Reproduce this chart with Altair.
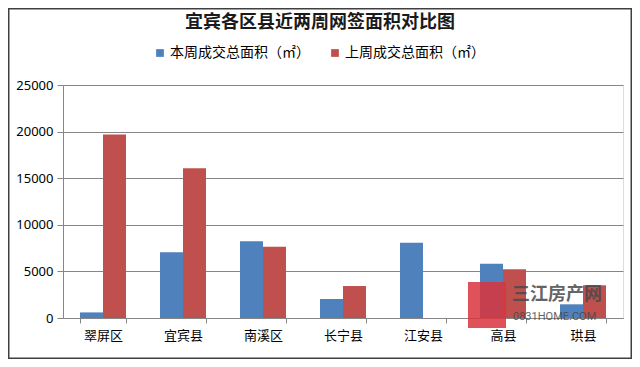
import altair as alt
import pandas as pd

categories = ["翠屏区", "宜宾县", "南溪区", "长宁县", "江安县", "高县", "珙县"]
this_week = [600, 7050, 8230, 2040, 8080, 5830, 1470]
last_week = [19700, 16060, 7650, 3430, 0, 5220, 3510]
series = ["本周成交总面积（㎡）", "上周成交总面积（㎡）"]
colors = ["#4F81BD", "#C0504D"]
y_ticks = [0, 5000, 10000, 15000, 20000, 25000]
title_text = "宜宾各区县近两周网签面积对比图"
watermark_cn = "三江房产网"
watermark_en = "0831HOME.COM"

rows = []
for c, a, b in zip(categories, this_week, last_week):
    rows.append({"cat": c, "series": series[0], "value": a})
    rows.append({"cat": c, "series": series[1], "value": b})
df = pd.DataFrame(rows)
one = pd.DataFrame({"k": [0]})

CJK = "Noto Sans CJK SC"
W, H = 560, 233
L, T = 55, 77
TOTAL_W, TOTAL_H = 624, 351

bars = alt.Chart(df).mark_bar().encode(
    x=alt.X("cat:N", sort=categories,
            scale=alt.Scale(paddingInner=0.425, paddingOuter=0.2125),
            axis=alt.Axis(title=None, labelAngle=0, tickBand="extent", grid=False,
                          domainColor="#868686", tickColor="#868686", tickSize=5,
                          labelFont=CJK, labelFontSize=13, labelColor="#000000",
                          labelPadding=6)),
    xOffset=alt.XOffset("series:N", sort=series, scale=alt.Scale(paddingInner=0)),
    y=alt.Y("value:Q", scale=alt.Scale(domain=[0, 25000], nice=False),
            axis=alt.Axis(values=y_ticks, title=None, grid=True, gridColor="#868686",
                          domainColor="#868686", tickColor="#868686", tickSize=6,
                          format="d",
                          labelFont="Noto Sans", labelFontSize=13, labelColor="#000000",
                          labelPadding=4)),
    color=alt.Color("series:N", sort=series,
                    scale=alt.Scale(domain=series, range=colors),
                    legend=alt.Legend(orient="none", legendX=90, legendY=-39,
                                      direction="horizontal", title=None,
                                      symbolType="square", symbolSize=60,
                                      symbolStrokeWidth=0, labelFont=CJK,
                                      labelFontSize=14, labelColor="#000000",
                                      columnPadding=18, symbolOffset=0,
                                      labelOffset=3)),
)

title = alt.Chart(one).mark_text(
    text=title_text, font=CJK, fontSize=18, fontWeight="bold", color="#1a1a1a",
    align="center", baseline="middle"
).encode(x=alt.value(257), y=alt.value(-62))

logo = alt.Chart(one).mark_rect(fill="#D9343C", opacity=0.85).encode(
    x=alt.value(405), x2=alt.value(443), y=alt.value(197), y2=alt.value(243)
)
wm1 = alt.Chart(one).mark_text(
    text=watermark_cn, font=CJK, fontSize=18, fontWeight="bold", color="#4a4a4a",
    opacity=0.85, align="left", baseline="middle"
).encode(x=alt.value(449), y=alt.value(210))
wm2 = alt.Chart(one).mark_text(
    text=watermark_en, font="Roboto", fontSize=11, color="#4a4a4a",
    opacity=0.85, align="left", baseline="middle"
).encode(x=alt.value(450), y=alt.value(232))

border = alt.Chart(one).mark_rect(
    fill="transparent", stroke="#404040", strokeWidth=1.5
).encode(
    x=alt.value(-L + 0.75), x2=alt.value(TOTAL_W - L - 0.75),
    y=alt.value(-T + 0.75), y2=alt.value(TOTAL_H - T - 0.75),
)

chart = alt.layer(bars, logo, wm1, wm2, title, border).properties(
    width=W, height=H,
    autosize=alt.AutoSizeParams(type="none"),
    padding={"left": L, "top": T, "right": TOTAL_W - L - W, "bottom": TOTAL_H - T - H},
).configure_view(strokeWidth=0).configure(background="white")

chart.save("out.html", embed_options={"renderer": "svg", "actions": False})
